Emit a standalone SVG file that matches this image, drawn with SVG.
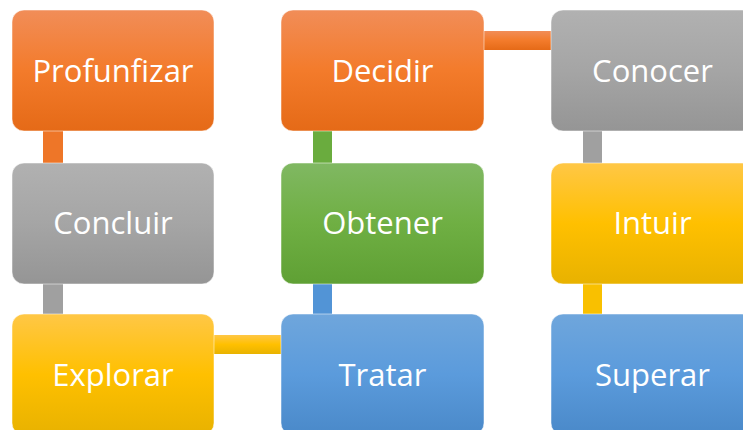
<svg xmlns="http://www.w3.org/2000/svg" width="743" height="430" viewBox="0 0 743 430">
<defs>
<linearGradient id="gO" x1="0" y1="0" x2="0" y2="1"><stop offset="0" stop-color="#F18D58"/><stop offset="0.5" stop-color="#F37B2B"/><stop offset="1" stop-color="#E56A17"/></linearGradient>
<linearGradient id="gG" x1="0" y1="0" x2="0" y2="1"><stop offset="0" stop-color="#B1B1B1"/><stop offset="0.5" stop-color="#A5A5A5"/><stop offset="1" stop-color="#959595"/></linearGradient>
<linearGradient id="gY" x1="0" y1="0" x2="0" y2="1"><stop offset="0" stop-color="#FFC746"/><stop offset="0.5" stop-color="#FFC000"/><stop offset="1" stop-color="#E8B200"/></linearGradient>
<linearGradient id="gB" x1="0" y1="0" x2="0" y2="1"><stop offset="0" stop-color="#6FA6DC"/><stop offset="0.5" stop-color="#5B9BDC"/><stop offset="1" stop-color="#4A89C9"/></linearGradient>
<linearGradient id="gN" x1="0" y1="0" x2="0" y2="1"><stop offset="0" stop-color="#80B862"/><stop offset="0.5" stop-color="#6FAF43"/><stop offset="1" stop-color="#5FA034"/></linearGradient>
</defs>
<style>
.box{stroke:#ffffff;stroke-opacity:0.5;stroke-width:1}
.lbl{font-family:"Open Sans","Noto Sans",sans-serif;font-size:31px;fill:#ffffff;text-anchor:middle}
</style>
<g id="connectors">
<rect x="43" y="128" width="20" height="38" fill="#EE7628"/>
<rect x="43" y="281" width="20" height="37" fill="#A0A0A0"/>
<rect x="211" y="335" width="73" height="19" fill="url(#gY)"/>
<rect x="313" y="281" width="19" height="37" fill="#5294D6"/>
<rect x="313" y="128" width="19" height="38" fill="#6AAC3E"/>
<rect x="481" y="31" width="73" height="19" fill="url(#gO)"/>
<rect x="583" y="128" width="19" height="38" fill="#A0A0A0"/>
<rect x="583" y="281" width="19" height="37" fill="#F9C000"/>
</g>
<g id="profunfizar"><rect class="box" x="12" y="10" width="202" height="121" rx="12" fill="url(#gO)"/><text class="lbl" x="113" y="81.5">Profunfizar</text></g>
<g id="concluir"><rect class="box" x="12" y="163" width="202" height="121" rx="12" fill="url(#gG)"/><text class="lbl" x="113" y="234">Concluir</text></g>
<g id="explorar"><rect class="box" x="12" y="314" width="202" height="121" rx="12" fill="url(#gY)"/><text class="lbl" x="113" y="385.5">Explorar</text></g>
<g id="tratar"><rect class="box" x="281" y="314" width="203" height="121" rx="12" fill="url(#gB)"/><text class="lbl" x="382.5" y="385.5">Tratar</text></g>
<g id="obtener"><rect class="box" x="281" y="163" width="203" height="121" rx="12" fill="url(#gN)"/><text class="lbl" x="382.5" y="234">Obtener</text></g>
<g id="decidir"><rect class="box" x="281" y="10" width="203" height="121" rx="12" fill="url(#gO)"/><text class="lbl" x="382.5" y="81.5">Decidir</text></g>
<g id="conocer"><rect class="box" x="551" y="10" width="203" height="121" rx="12" fill="url(#gG)"/><text class="lbl" x="652.5" y="81.5">Conocer</text></g>
<g id="intuir"><rect class="box" x="551" y="163" width="203" height="121" rx="12" fill="url(#gY)"/><text class="lbl" x="652.5" y="234">Intuir</text></g>
<g id="superar"><rect class="box" x="551" y="314" width="203" height="121" rx="12" fill="url(#gB)"/><text class="lbl" x="652.5" y="385.5">Superar</text></g>
</svg>
